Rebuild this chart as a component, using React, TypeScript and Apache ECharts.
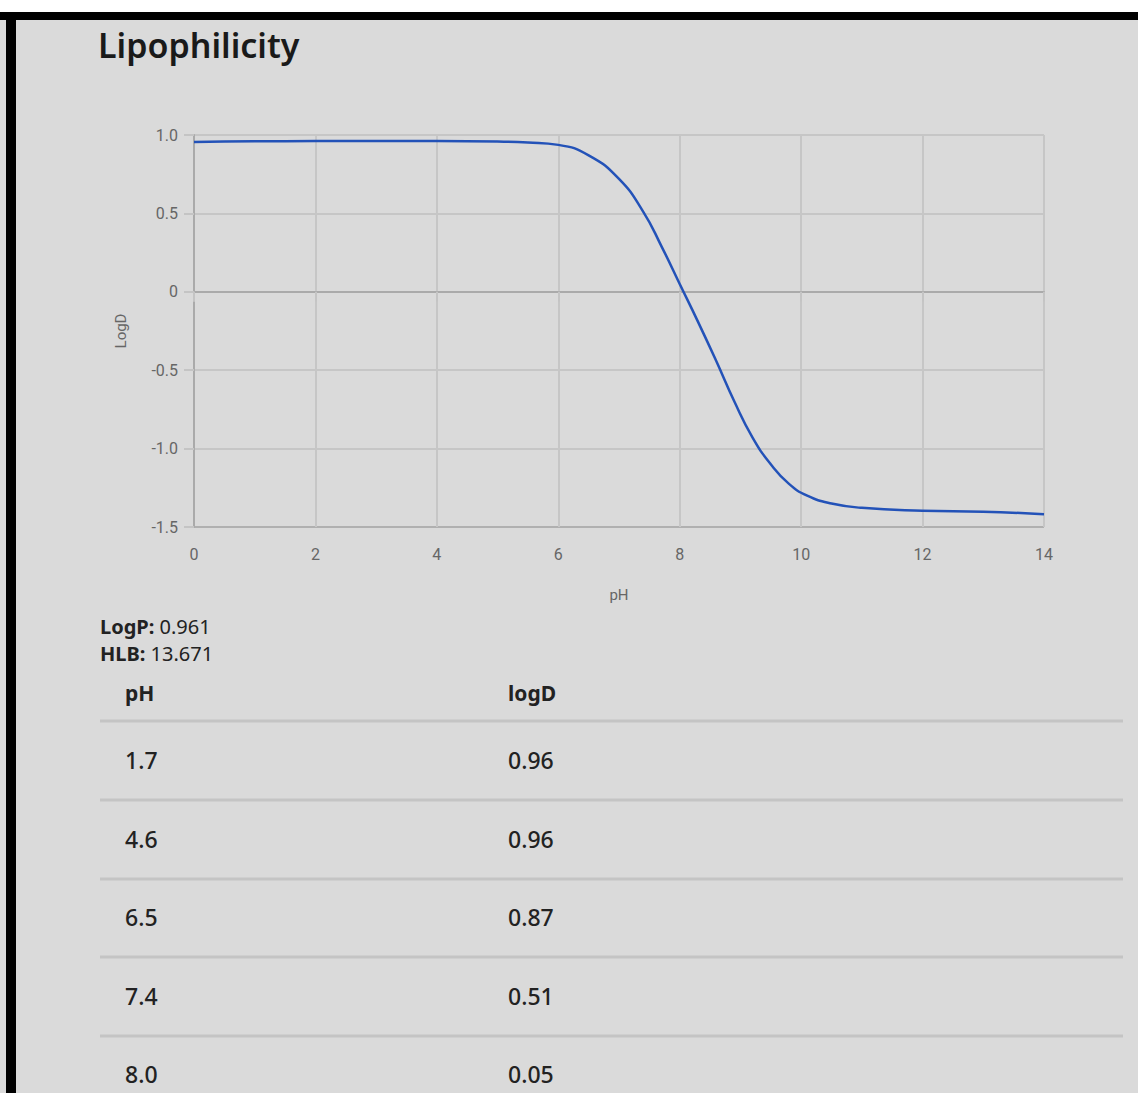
import React, { useEffect, useRef } from "react";
import * as echarts from "echarts";

const curvePH = [0, 1, 2, 3, 4, 5, 5.5, 6, 6.5, 7, 7.4, 7.7, 8, 8.3, 8.6, 8.9, 9.2, 9.5, 9.8, 10.1, 10.5, 11, 12, 13, 14];
const curveLogD = [0.955, 0.96, 0.961, 0.961, 0.961, 0.958, 0.952, 0.937, 0.87, 0.72, 0.51, 0.29, 0.05, -0.19, -0.44, -0.7, -0.93, -1.1, -1.225, -1.3, -1.35, -1.378, -1.396, -1.402, -1.419];

const xTicks = [0, 14, 2];
const yTicks = [-1.5, 1.0, 0.5];

const logP = "0.961";
const hlb = "13.671";

const tablePH = ["1.7", "4.6", "6.5", "7.4", "8.0"];
const tableLogD = ["0.96", "0.96", "0.87", "0.51", "0.05"];

const BG = "#dadada";
const FONT = "'Noto Sans', 'Open Sans', sans-serif";
const AXFONT = "Roboto, 'Liberation Sans', sans-serif";

export default function App() {
  const ref = useRef<HTMLDivElement>(null);
  useEffect(() => {
    document.body.style.margin = "0";
    const chart = echarts.init(ref.current!, null, { renderer: "svg" });

    const graphics: any[] = [
      { type: "rect", shape: { x: 0, y: 0, width: 1138, height: 12 }, style: { fill: "#ffffff" }, z: 10 },
      { type: "rect", shape: { x: 0, y: 12, width: 1138, height: 8 }, style: { fill: "#000000" }, z: 10 },
      { type: "rect", shape: { x: 6, y: 12, width: 10, height: 1081 }, style: { fill: "#000000" }, z: 10 },
      {
        type: "text",
        x: 100,
        y: 613,
        style: {
          text: "{b|LogP:} " + logP + "\n{b|HLB:} " + hlb,
          font: `20px ${FONT}`,
          fill: "#222",
          lineHeight: 27,
          rich: { b: { fontWeight: "bold", fontSize: 20, fontFamily: FONT, fill: "#222", lineHeight: 27 } },
        },
      },
      { type: "text", x: 125, y: 693, style: { text: "pH", font: `bold 21px ${FONT}`, fill: "#222", verticalAlign: "middle" } },
      { type: "text", x: 508, y: 693, style: { text: "logD", font: `bold 21px ${FONT}`, fill: "#222", verticalAlign: "middle" } },
    ];
    const lineYs = [721, 800, 879, 957, 1036];
    lineYs.forEach((ly) => {
      graphics.push({ type: "line", shape: { x1: 100, y1: ly, x2: 1123, y2: ly }, style: { stroke: "#c4c4c4", lineWidth: 3 } });
    });
    tablePH.forEach((p, i) => {
      const cy = 760 + i * 78.5;
      graphics.push({ type: "text", x: 125, y: cy, style: { text: p, font: `500 23px ${FONT}`, fill: "#222", verticalAlign: "middle" } });
      graphics.push({ type: "text", x: 508, y: cy, style: { text: tableLogD[i], font: `500 23px ${FONT}`, fill: "#222", verticalAlign: "middle" } });
    });

    chart.setOption({
      animation: false,
      backgroundColor: BG,
      title: {
        text: "Lipophilicity",
        left: 93,
        top: 23,
        textStyle: { fontFamily: FONT, fontSize: 34, fontWeight: 600, color: "#1a1a1a" },
      },
      grid: { left: 194, top: 135, width: 850, height: 392 },
      xAxis: {
        type: "value",
        min: xTicks[0],
        max: xTicks[1],
        interval: xTicks[2],
        name: "pH",
        nameLocation: "middle",
        nameGap: 60,
        nameTextStyle: { color: "#666", fontSize: 15, fontFamily: AXFONT },
        axisLine: { show: true, lineStyle: { color: "#aaaaaa", width: 2 } },
        axisTick: { show: true, length: 10, lineStyle: { color: "#c4c4c4", width: 2 } },
        axisLabel: { color: "#666", fontSize: 16, margin: 19, fontFamily: AXFONT },
        splitLine: { show: true, lineStyle: { color: "#c6c6c6", width: 2 } },
      },
      yAxis: {
        type: "value",
        min: yTicks[0],
        max: yTicks[1],
        interval: yTicks[2],
        name: "LogD",
        nameLocation: "middle",
        nameRotate: 90,
        nameGap: 66,
        nameTextStyle: { color: "#666", fontSize: 15, fontFamily: AXFONT },
        axisLine: { show: true, lineStyle: { color: "#aaaaaa", width: 2 } },
        axisTick: { show: true, length: 10, lineStyle: { color: "#c4c4c4", width: 2 } },
        axisLabel: {
          color: "#666",
          fontSize: 16,
          margin: 16,
          fontFamily: AXFONT,
          formatter: (v: number) => (v === 0 ? "0" : v.toFixed(1)),
        },
        splitLine: {
          show: true,
          lineStyle: { color: ["#b0b0b0", "#c6c6c6", "#c6c6c6", "#aaaaaa", "#c6c6c6", "#c6c6c6"], width: 2 },
        },
      },
      series: [
        {
          type: "line",
          data: curvePH.map((p, i) => [p, curveLogD[i]]),
          smooth: 0.5,
          showSymbol: false,
          lineStyle: { color: "#2352b8", width: 2.5 },
        },
      ],
      graphic: graphics,
    });
    return () => chart.dispose();
  }, []);
  return (
    <div style={{ position: "absolute", left: 0, top: 0, width: 1138, height: 1093, overflow: "hidden", background: BG }}>
      <div ref={ref} style={{ width: 1138, height: 1093 }} />
    </div>
  );
}
